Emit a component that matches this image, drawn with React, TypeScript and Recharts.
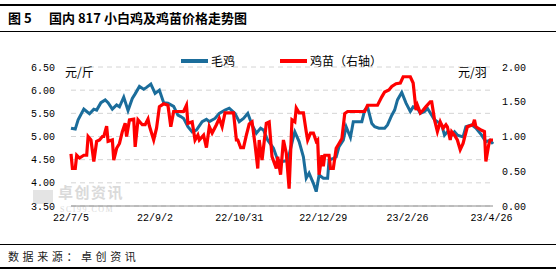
import React from 'react';
import { LineChart, Line, XAxis, YAxis, CartesianGrid } from 'recharts';

// x axis: days since 22/7/5, one label every 59 days
const tickDays = [0, 59, 118, 177, 236, 295];
const tickLabels = ['22/7/5', '22/9/2', '22/10/31', '22/12/29', '23/2/26', '23/4/26'];
const leftTicks = [3.5, 4, 4.5, 5, 5.5, 6, 6.5];
const rightTicks = [0, 0.5, 1, 1.5, 2];

// 毛鸡 (元/斤, left axis)
const maoDays = [
  0, 3, 5, 9, 11, 13, 16, 18, 21, 24,
  26, 29, 32, 34, 37, 40, 43, 45, 48, 51,
  53, 56, 59, 62, 65, 68, 72, 75, 77, 79,
  82, 85, 88, 92, 95, 97, 101, 104, 108, 111,
  115, 118, 121, 124, 127, 130, 133, 135, 138, 142,
  145, 148, 152, 156, 157, 160, 163, 165, 167, 170,
  172, 174, 177, 180, 181, 184, 186, 188, 191, 193,
  196, 198, 204, 206, 208, 211, 213, 216, 220, 222,
  225, 227, 229, 232, 235, 238, 240, 243, 245, 248,
  250, 253, 255, 257, 260, 262, 264, 267, 269, 271,
  275, 277, 281, 284, 288, 291, 294, 296,
];
const maoPrice = [
  5.18, 5.16, 5.36, 5.59, 5.54, 5.49, 5.59, 5.57, 5.73, 5.79,
  5.73, 5.59, 5.68, 5.64, 5.85, 5.56, 5.82, 5.92, 6.08, 6.02,
  6.06, 6.13, 5.93, 6.0, 5.73, 5.72, 5.65, 5.46, 5.43, 5.39,
  5.21, 5.1, 5.14, 5.32, 5.37, 5.32, 5.39, 5.5, 5.57, 5.61,
  5.5, 5.32, 5.39, 5.5, 5.25, 5.07, 5.18, 5.14, 4.92, 4.75,
  4.49, 4.46, 4.48, 4.99, 5.1, 4.89, 4.56, 4.1, 4.21, 3.99,
  3.81, 4.17, 4.1, 4.1, 4.49, 4.53, 4.56, 4.78, 4.92, 5.21,
  4.98, 5.32, 5.32, 5.57, 5.64, 5.28, 5.21, 5.18, 5.18, 5.25,
  5.46, 5.57, 5.79, 5.95, 5.72, 5.54, 5.64, 5.61, 5.5, 5.54,
  5.61, 5.46, 5.36, 5.32, 5.25, 5.03, 5.1, 5.03, 5.1, 5.03,
  4.99, 5.21, 5.25, 5.18, 5.03, 4.89, 4.92, 4.84,
];

// 鸡苗 (元/羽, right axis)
const miaoDays = [
  0, 1, 3, 4, 6, 9, 11, 12, 14, 16,
  18, 20, 22, 23, 25, 26, 29, 30, 32, 34,
  36, 38, 39, 41, 44, 45, 47, 50, 52, 54,
  55, 58, 60, 62, 65, 68, 70, 72, 79, 81,
  82, 85, 87, 89, 90, 93, 95, 97, 99, 102,
  104, 106, 108, 114, 116, 117, 119, 121, 123, 125,
  127, 129, 131, 132, 134, 137, 139, 141, 144, 145,
  147, 149, 151, 153, 155, 157, 158, 160, 163, 165,
  166, 168, 170, 172, 173, 174, 176, 177, 178, 181,
  182, 184, 186, 188, 190, 192, 194, 206, 208, 215,
  218, 220, 223, 225, 228, 231, 233, 238, 240, 242,
  243, 245, 247, 249, 252, 253, 255, 257, 259, 261,
  263, 264, 266, 267, 269, 271, 273, 275, 278, 282,
  283, 284, 288, 290, 291, 293, 294, 296,
];
const miaoPrice = [
  0.75, 0.54, 0.54, 0.73, 0.69, 0.73, 0.73, 1.0, 0.95, 0.64,
  0.93, 0.95, 1.0, 1.0, 1.15, 0.93, 0.95, 0.66, 0.83, 0.9,
  1.07, 1.19, 1.0, 1.24, 1.25, 0.85, 1.24, 1.17, 1.17, 1.25,
  1.15, 0.95, 1.12, 1.43, 1.47, 1.45, 1.14, 1.36, 1.36, 1.45,
  1.19, 1.21, 0.95, 1.02, 0.95, 1.02, 0.84, 1.14, 1.05, 1.17,
  1.26, 1.14, 1.34, 1.34, 0.95, 0.95, 0.84, 0.84, 1.02, 1.18,
  1.21, 0.9, 0.54, 0.95, 0.66, 1.19, 1.21, 0.71, 0.54, 0.71,
  0.45, 0.95, 0.76, 0.25, 1.24, 1.21, 1.41, 1.34, 1.34, 1.07,
  0.95, 1.05, 1.05, 0.93, 0.95, 0.45, 0.73, 0.57, 0.73, 0.73,
  0.54, 0.54, 0.83, 0.9, 0.97, 1.33, 1.36, 1.36, 1.45, 1.45,
  1.57, 1.64, 1.67, 1.72, 1.76, 1.77, 1.86, 1.86, 1.77, 1.38,
  1.45, 1.34, 1.38, 1.43, 1.5, 1.5, 1.24, 1.07, 1.21, 1.12,
  1.17, 1.14, 0.95, 1.07, 1.02, 0.95, 0.81, 0.9, 1.14, 1.17,
  1.24, 1.14, 1.09, 1.07, 0.64, 0.88, 0.95, 0.95,
];

const maoData = maoDays.map((d, i) => ({ d, v: maoPrice[i] }));
const miaoData = miaoDays.map((d, i) => ({ d, v: miaoPrice[i] }));

const BLUE = '#1b6d9b';
const RED = '#ff0000';
const tickFont = { fontFamily: '"Liberation Mono", monospace', fontSize: 10, fill: '#000' };

const abs = (left: number, top: number, extra: React.CSSProperties = {}): React.CSSProperties => ({
  position: 'absolute',
  left,
  top,
  whiteSpace: 'nowrap',
  lineHeight: 1,
  ...extra,
});

const App = () => {
  return (
    <div
      style={{
        position: 'relative',
        width: 556,
        height: 273,
        background: '#fff',
        overflow: 'hidden',
        fontFamily: '"Noto Sans CJK SC", sans-serif',
        color: '#000',
      }}
    >
      <style>{'body{margin:0}'}</style>

      {/* title block */}
      <div style={abs(0, 4, { width: 556, height: 2, background: '#000' })} />
      <div style={abs(8, 11, { fontSize: 13, fontWeight: 700 })}>图 5</div>
      <div style={abs(49, 11, { fontSize: 13, fontWeight: 700 })}>国内 817 小白鸡及鸡苗价格走势图</div>
      <div style={abs(0, 31, { width: 556, height: 1, background: '#000' })} />

      {/* watermark */}
      <div style={abs(33, 190, { width: 20, height: 14, background: '#e4e4e4' })} />
      <div style={abs(58, 184, { fontSize: 15, fontWeight: 700, color: '#dadada', letterSpacing: 1.5 })}>卓创资讯</div>
      <div style={abs(60, 206, { fontSize: 8, color: '#dadada', fontFamily: '"Liberation Serif", serif', letterSpacing: 1.5 })}>SCI99.COM</div>

      <LineChart
        width={556}
        height={273}
        margin={{ top: 67, right: 0, bottom: 37, left: 0 }}
        style={{ position: 'absolute', left: 0, top: 0 }}
      >
        <CartesianGrid yAxisId="left" vertical={false} stroke="#d4d4d4" strokeDasharray="5 4" />
        <XAxis
          dataKey="d"
          type="number"
          domain={[0, 296]}
          ticks={tickDays}
          interval={0}
          tickFormatter={(v: number) => tickLabels[tickDays.indexOf(v)]}
          height={30}
          tickLine={false}
          tickMargin={2}
          axisLine={{ stroke: '#8c8c8c' }}
          tick={tickFont}
        />
        <YAxis
          yAxisId="left"
          domain={[3.5, 6.5]}
          ticks={leftTicks}
          interval={0}
          width={71}
          tickLine={false}
          axisLine={false}
          tickMargin={10}
          tick={tickFont}
          tickFormatter={(v: number) => v.toFixed(2)}
        />
        <YAxis
          yAxisId="right"
          orientation="right"
          domain={[0, 2]}
          ticks={rightTicks}
          interval={0}
          width={63}
          tickLine={false}
          axisLine={false}
          tickMargin={3}
          tick={tickFont}
          tickFormatter={(v: number) => v.toFixed(2)}
        />
        <Line
          yAxisId="left"
          data={maoData}
          dataKey="v"
          name="毛鸡"
          type="linear"
          stroke={BLUE}
          strokeWidth={3}
          dot={false}
          isAnimationActive={false}
        />
        <Line
          yAxisId="right"
          data={miaoData}
          dataKey="v"
          name="鸡苗（右轴）"
          type="linear"
          stroke={RED}
          strokeWidth={3.2}
          dot={false}
          isAnimationActive={false}
        />
      </LineChart>

      {/* units */}
      <div style={abs(65, 66, { fontSize: 12 })}>元/斤</div>
      <div style={abs(458, 66, { fontSize: 12 })}>元/羽</div>

      {/* legend */}
      <div style={abs(181, 59, { width: 27, height: 4, background: BLUE })} />
      <div style={abs(211, 55, { fontSize: 12 })}>毛鸡</div>
      <div style={abs(280, 59, { width: 27, height: 4, background: RED })} />
      <div style={abs(310, 55, { fontSize: 12 })}>鸡苗（右轴）</div>

      {/* source */}
      <div style={abs(0, 244, { width: 556, height: 1, background: '#000' })} />
      <div style={abs(8, 251, { fontSize: 11, letterSpacing: 3.6, color: '#222' })}>数据来源：卓创资讯</div>
      <div style={abs(0, 267, { width: 556, height: 2, background: '#000' })} />
    </div>
  );
};

export default App;
